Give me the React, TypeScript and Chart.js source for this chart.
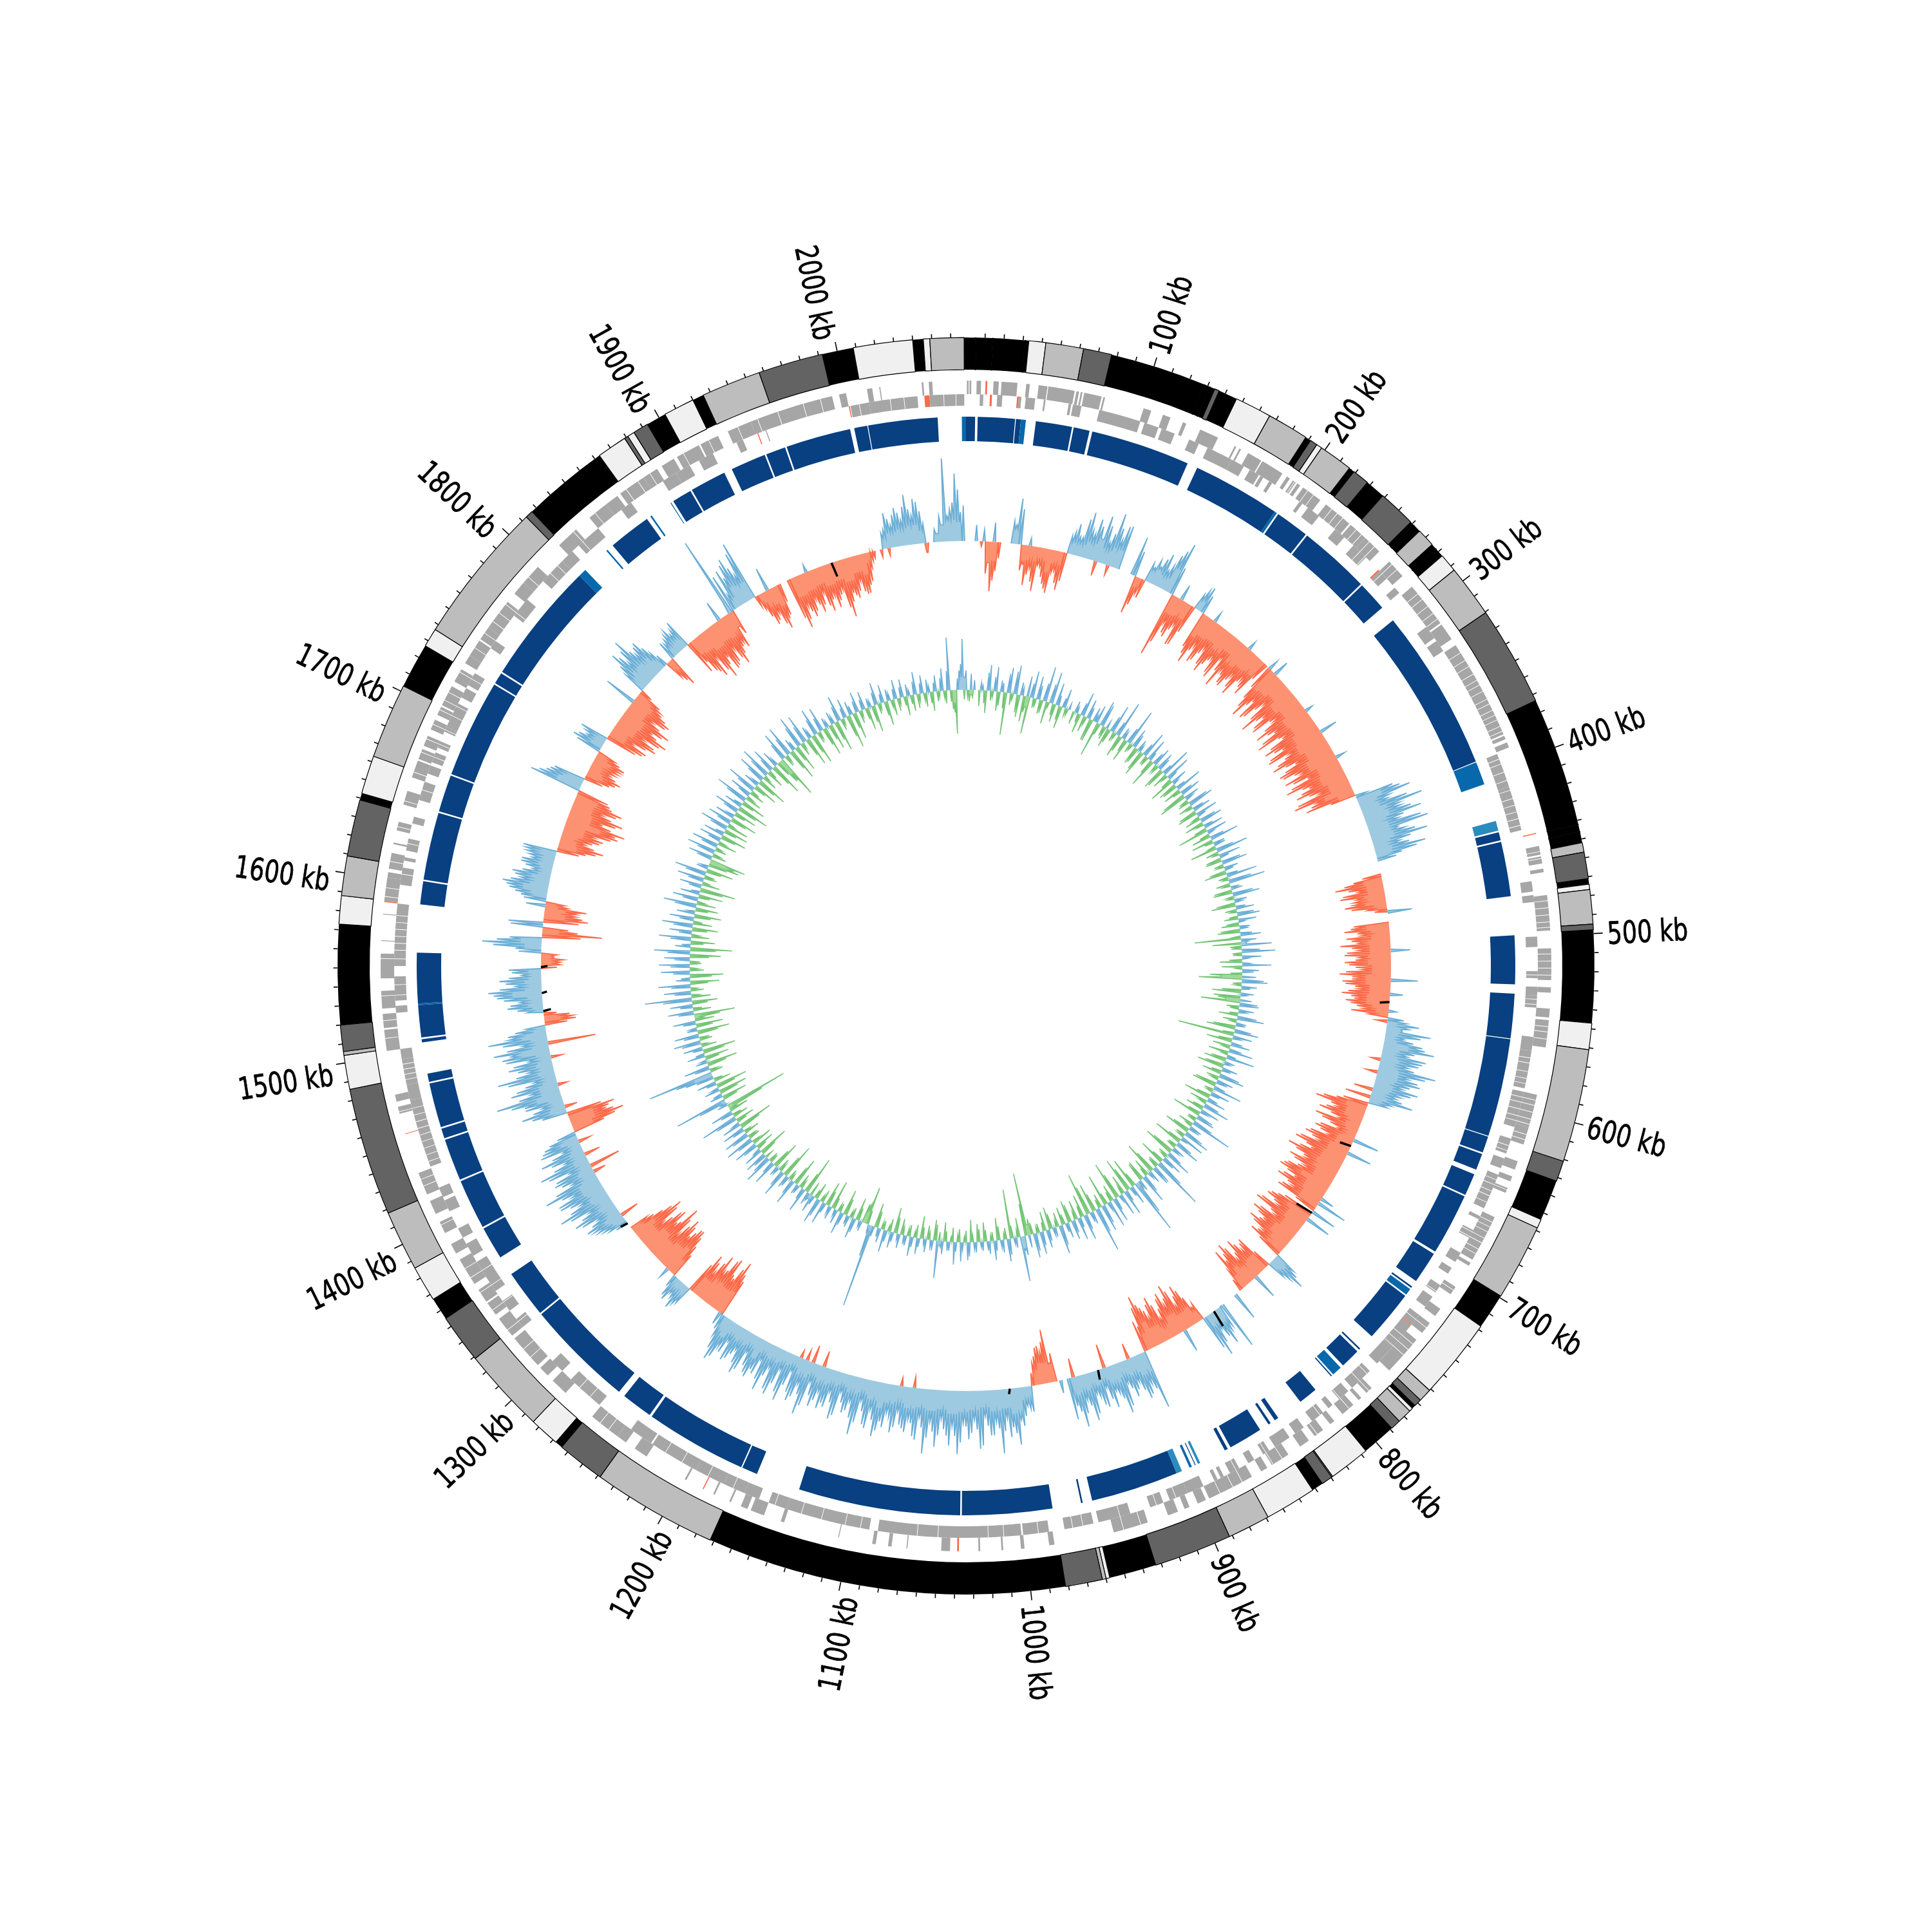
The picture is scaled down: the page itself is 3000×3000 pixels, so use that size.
import React, { useEffect, useRef } from "react";
import { Chart, registerables } from "chart.js";

Chart.register(...registerables);

const genomeKb = 2068;
const tickStepKb = 10;
const labelStepKb = 100;

// Ideogram bands: start kb, end kb, shade index
const bandShadeColors = ["#000000", "#636363", "#bdbdbd", "#f0f0f0"];
const ideogramBands = [
  [0,5,0],[5,5.3,2],[5.3,14,0],[14,14.3,2],[14.3,31,0],[31,31.4,2],[31.4,33,0],[33,42,3],[42,62,2],[62,77,1],[77,128,0],[128,128.3,3],[128.3,131,0],[131,131.3,3],[131.3,134,0],[134,136.5,1],[136.5,146.5,0],
  [146.5,166,3],[166,188,2],[188,189.5,0],[189.5,189.8,3],[189.8,191,0],[191,195,1],[195,198,3],[198,216,2],[216,217,0],[217,217.3,3],[217.3,219,0],[219,228,1],[228,238.7,0],[238.7,258.8,1],
  [258.8,261,0],[261,261.4,3],[261.4,265.4,0],[265.4,275,2],[275,278,0],[278,278.4,3],[278.4,283,0],[283,292.7,3],[292.7,320.5,2],[320.5,373.5,1],[373.5,442,0],[442,442.4,3],[442.4,446,0],[446,446.4,3],[446.4,452,0],
  [452,457,2],[457,471,1],[471,474,0],[474,476.8,3],[476.8,495,2],[495,498,1],[498,547,0],[547,561,3],[561,621,2],[621,632,1],[632,653.7,0],
  [653.7,658.5,3],[658.5,699,2],[699,718,0],[718,761,3],[761,768,2],[768,772,1],[772,774,0],[774,776,3],[776,783.6,2],[783.6,789,1],[789,807,0],
  [807,829,3],[829,829.6,2],[829.6,835.5,1],[835.5,841.6,0],[841.6,869,3],[869,891.6,2],[891.6,933,1],[933,958,0],[958,960,3],[960,962,2],[962,981.6,1],
  [981.6,1172,0],[1172,1238.6,2],[1238.6,1264,1],[1264,1268,0],[1268,1284,3],[1284,1329,2],[1329,1355,1],[1355,1367,0],[1367,1386,3],[1386,1418,2],
  [1418,1486,1],[1486,1504,3],[1504,1506,2],[1506,1520,1],[1520,1573,0],[1573,1588,3],[1588,1609,2],[1609,1639,1],[1639,1642.6,0],[1642.6,1663,3],
  [1663,1703,2],[1703,1727,0],[1727,1737,3],[1737,1813,2],[1813,1817,1],[1817,1863,0],[1863,1879,3],[1879,1881,1],[1881,1884.8,3],[1884.8,1893,1],
  [1893,1903.6,0],[1903.6,1920,3],[1920,1926,0],[1926,1957.6,2],[1957.6,1992,1],[1992,2008.6,0],[2008.6,2040,3],[2040,2045.6,0],[2045.6,2049,3],[2049,2067,2],[2067,2068,0],
];

// Genes on the outer lane
const geneOuter = [
  [0.5,1.5],[2,3],[6,8.5],[15.5,18.5],[20,29],[34,36],[41,46],[46.5,61.5],[62.5,64],[65,66],[67,77],[78,79],[101.5,106],[113,117.5],[125,127],[135.5,146.5],[157,158],[160,161],[165.5,174],[174.7,188],
  [191,193],[195,197],[198,200],[202,214],[218,235],[236,247],[247,258],[266,277],[285,311],[312,322],[326,383],[384,386],[388,391],[449,454],[455,459],[462,464],[477,497],[507,525],[529,532],[541,546],[547.5,563],
  [590,609],[609,619],[629,634],[638,641],[645,648],[663,690],[692,694],[708,713],[723,728],[733,740],[745,768],[782,786],[790,792],[796,804],[810,813],[818,824],[828,834],[842,853],[856,860],[866,893],[895,900],
  [905,908],[912,918],[930,950],[984,987],[1001,1003],[1013,1014],[1026,1027],[1043,1048],[1067,1067.6],[1076,1078],[1085,1087],[1106,1106.5],[1138,1140],[1150,1158],[1160,1164],[1170,1171],[1180,1181],[1198,1199],
  [1224,1232],[1238,1244],[1244,1262],[1282,1292],[1296,1302],[1304,1324],[1326,1338],[1341,1349],[1350,1358],[1362,1378],[1382,1388],[1395,1402],[1407,1415],[1419,1432],[1467,1471],[1474,1478],[1503,1515],
  [1516,1524],[1527,1537],[1544,1558],[1565,1565.5],[1580,1580.5],[1587,1601],[1601,1604],[1606,1615],[1620,1621],[1628,1633],[1643,1651],[1659,1669],[1670,1676],[1678,1684],[1688,1694],[1697,1702],[1703,1715],
  [1718,1726],[1730,1735],[1735,1745],[1746,1754],[1754,1772],[1778,1786],[1783,1798],[1815,1828],[1838,1850],[1850,1858],[1860,1872],[1868,1876],[1876,1885],[1888,1896],[1898,1912],[1913,1924],[1930,1944],[1944,1992],
  [1996,2000],[2012,2015],[2019,2019.6],[2043,2044],[2047,2049],
];
const geneOuterRed = [[11,12],[441.5,442],[1038,1039],[1187,1187.6],[1455,1455.4],[1587,1587.6],[1882,1883]];

// Genes on the inner lane
const geneInner = [
  [8,10],[18,21],[30.5,32],[34.5,40],[45,46],[59.5,61],[62,67],[77.5,102],[104.5,113],[115,123],[132,138],[143.6,159],[157,167],[171,177],[178,180],[184,186],[205,207],[211,219],[231,238],[245,255],[265,272],[279,283],
  [308,316],[318,325],[392,412],[412,438],[468,474],[476,480],[500,506],[520,524],[529,534],[534,541],[558,566],[566,588],[590,611],[618,627],[630,636],[640,661],[666,668],[675,680],[690,696],[700,704],[712,717],[720,727],
  [733,757],[757,770],[776,790],[793,800],[805,808],[812,820],[826,832],[836,846],[850,854],[860,864],[870,876],[880,882],[884,886],[893,903],[903,914],[918,926],[938,957],[960,977],[986,1001],[1002,1034],[1034,1085],[1090,1139],
  [1139,1150],[1156,1165],[1165,1178],[1178,1196],[1196,1225],[1226,1240],[1263,1285],[1292,1300],[1326,1332],[1338,1345],[1352,1372],[1376,1384],[1388,1394],[1405,1412],[1414,1420],[1433,1473],[1471,1482],[1482,1497],
  [1497,1503],[1524,1528],[1531,1545],[1551,1587],[1598,1608],[1612,1614],[1618,1625],[1634,1638],[1648,1659],[1664,1669],[1671,1677],[1680,1684],[1690,1693],[1692,1708],[1712,1718],[1720,1728],[1745,1750],[1768,1780],
  [1794,1810],[1803,1818],[1823,1838],[1855,1862],[1884,1893],[1893,1902],[1908,1917],[1932,1936],[1950,1950.6],[2001,2012],[2012,2040],[2047,2067],
];
const geneInnerRed = [[13.8,15],[29.5,30.5],[265,266],[740,740.6],[1945,1945.6],[2000,2000.6],[2044,2047]];

// Hairline breaks between neighbouring genes
const geneBreaksKb = [
  193,196,205,209,222,226,230,240,244,250,254,268,272,290,294,299,304,308,
  331,336,340,345,349,352,356,361,364,368,371,374,378,381,395,398,403,408,414,419,423,427,431,435,452,456,480,484,488,492,495,510,514,518,522,
  536,539,551,554,558,570,573,578,582,585,593,596,600,604,607,613,616,622,625,643,646,650,653,657,666,669,672,676,679,683,686,697,700,705,710,716,730,736,740,748,752,756,
  778,784,799,814,822,834,846,852,872,878,886,910,922,934,944,966,972,992,
  1012,1021,1050,1062,1095,1104,1118,1130,1146,1172,1188,1205,1216,1250,1256,1270,1278,1310,1316,
  1330,1344,1356,1366,1372,1400,1424,1428,1436,1440,1444,1448,1452,1456,1460,1464,1468,1485,1488,1491,1494,1510,1520,
  1534,1540,1555,1560,1564,1568,1572,1576,1580,1590,1595,1604,1610,1622,1630,1645,1654,1662,1674,1682,1691,1700,1706,1711,1724,1740,1750,1758,1764,1770,1790,1800,1806,
  1826,1842,1864,1872,1880,1902,1918,1936,1948,1960,1975,1985,2006,2024,2032,2055,2062,
];
const geneBreakWidthKb = 0.35;

// Contigs: start kb, end kb, shade index
const contigShadeColors = ["#084081", "#0868ac", "#2b8cbe"];
const contigSpans = [
  [0,5.5,0],[7,29.5,0],[30,33,0],[33,36,1],[42,64,0],[65,74.7,0],[76.4,136.7,0],[143,196.5,0],[196.5,198,1],[199,219.5,0],[220.5,264,0],[265,283,0],[293,391.5,0],[392,406,1],[429,435,2],[436,441,0],[442,475,0],
  [498.6,528,0],[533.6,560.5,0],[561,620.5,0],[621,631,0],[632,642,0],[645,658.5,0],[659.5,697,0],[698.5,718,0],[722,723,0],[724,728,1],[729,760.5,0],[770.5,771.5,0],[773,785,0],[787,793,1],[794,794.7,0],
  [807,818.6,0],[835,837.5,0],[840.5,842,0],[848,868.6,0],[870.5,872.5,0],[889,890.5,2],[892,892.5,0],[894.5,896,1],[901,904.5,2],[904.5,957.7,0],[963.5,964.5,0],[981.9,1036.5,0],[1037.5,1135.6,0],
  [1162.5,1172,0],[1172.8,1234.5,0],[1236,1255,0],[1259,1325,0],[1326,1355,0],[1367,1387,0],[1388,1418.5,0],[1419.5,1445,0],[1446,1452,0],[1453,1480,0],[1481,1486,0],[1505,1507,0],[1508,1527.5,0],[1527.5,1528.5,1],[1528.5,1559,0],
  [1588,1602,0],[1603,1644,0],[1645,1667.5,0],[1668.5,1728,0],[1729,1736,0],[1737,1811,0],[1811,1816,1],[1833,1834,1],[1838,1864,0],[1866.5,1867.5,1],[1881,1881.5,1],[1883,1895,0],[1896,1918,0],[1923,1944.5,0],[1945.5,1957.5,0],
  [1958.5,1998,0],[2000.5,2008.5,0],[2009,2051,0],[2065.5,2068,1],
];

// Outer skew track, one value every 4 kb (25 values per 100 kb)
const skewBinKb = 4;
const skewOuter = [
  0,0,25,0,-50,-77,-45,0,0,35,71,-40,-62,-35,-69,-30,-55,-68,-32,-60,28,49,30,72,40,
  55,74,35,84,45,70,0,0,62,-60,-25,30,39,45,30,60,84,-103,-45,-65,-40,-70,25,42,-60,
  -83,-50,-70,-45,-80,-55,-72,-40,-85,-60,-75,-50,-78,-45,-65,0,-60,-90,-55,-80,-45,-95,-60,-85,-50,
  -88,-60,-95,-55,-92,-65,-95,-70,-95,-60,-92,-70,-90,-55,-95,-60,-85,-50,-95,-70,-40,60,85,45,98,
  60,90,50,95,55,88,42,80,40,0,0,0,-45,-75,-40,-70,-50,-65,-30,0,0,-55,-70,-45,-60,
  -78,-50,-72,-55,-65,-45,-80,-60,-70,-50,-75,-55,-60,-40,-30,30,35,70,30,60,80,40,65,45,90,
  50,70,45,60,40,68,30,-50,-81,-45,-70,-35,-60,-30,-65,-40,-75,-50,-85,-55,-90,-60,-80,-50,-75,
  -85,-55,-80,-50,-70,40,-60,-75,-50,-85,-45,-80,-55,-75,-45,-60,35,60,30,-60,-45,-70,-40,-75,-50,
  -35,0,45,0,0,0,35,60,30,70,-30,-45,-70,-40,-80,-50,-65,-35,-75,-45,-65,-87,-40,93,50,
  70,40,60,35,80,45,65,30,55,35,75,40,80,45,0,20,-45,-83,-50,-58,-35,40,30,60,88,
  60,45,99,50,70,40,90,45,75,50,98,55,70,45,88,50,100,45,75,50,65,40,74,45,60,
  85,45,70,35,90,40,60,30,75,35,55,40,66,30,85,40,70,25,77,30,75,35,76,30,50,
  60,30,70,35,55,30,45,72,35,-60,-89,-55,-85,-60,-80,-45,-70,30,45,25,35,-40,-70,-79,-60,
  -85,-50,-95,-60,-75,-45,-85,-55,-30,0,30,45,60,35,70,40,85,45,75,50,90,40,65,35,80,
  35,70,30,60,45,-50,-85,-60,-75,40,70,35,60,102,45,65,35,90,40,69,35,75,87,40,92,
  60,30,-49,-40,25,55,35,70,83,40,65,30,50,-30,-35,-25,40,92,50,-93,-40,54,-69,-50,-65,
  -30,40,60,72,45,60,30,50,35,45,53,-45,-71,-40,-60,-50,-85,-94,-55,-85,-50,-78,-55,82,60,
  50,-40,-55,-35,-43,-50,-30,49,30,45,-60,-40,-75,-50,-85,-55,-80,-45,-70,-50,-40,35,70,45,80,
  45,60,30,-30,-50,25,35,30,46,-40,-65,-45,-85,-55,-75,-50,-80,-55,-60,-40,25,50,78,45,95,
  -25,-55,-40,-69,-50,0,0,-82,-50,-70,-45,-68,-40,-72,-50,-60,-45,-91,-55,-65,-40,-63,-50,-25,0,
  0,25,55,35,60,40,78,45,65,30,0,20,40,129,50,105,45,
];

// Outer skew track between those bins (2 kb later)
const skewOuterBetween = [
  0,0,0,18,-30,-60,-25,0,0,30,55,-30,-45,-55,-28,-45,-62,-35,-50,-45,35,30,60,45,65,
  -23,60,50,62,68,0,0,0,40,-45,-30,25,30,55,40,70,45,-80,-60,-50,-72,-45,35,30,-70,
  -60,-75,-55,-70,-65,-50,-78,-60,-55,-72,-60,-68,-50,-55,-30,-40,-75,-65,-85,-60,-75,-70,-80,-55,-70,
  -70,-85,-60,-80,-78,-90,-60,-85,-75,-80,-88,-60,-78,-85,-70,-75,-65,-88,-60,-80,18,70,50,75,60,
  75,60,85,45,70,60,55,65,30,0,0,-30,-60,-55,-65,-45,-50,-55,-20,0,0,-60,-50,-68,-50,
  -60,-68,-50,-72,-55,-70,-60,-75,-55,-65,-60,-68,-50,-58,25,50,25,55,45,65,50,70,60,55,75,
  65,55,70,45,50,35,-40,-70,-55,-60,-50,-72,-45,-58,-55,-68,-62,-78,-65,-72,-75,-55,-70,-60,-80,
  -70,-72,-60,-65,-35,-50,-70,-60,-78,-55,-70,-68,-60,-65,-50,-40,45,40,-30,-55,-60,-50,-65,-60,-70,
  -20,0,0,0,0,0,40,45,50,55,-25,-60,-55,-68,-60,-72,-50,-60,-65,-58,-72,-70,-50,60,65,
  55,50,45,70,55,40,50,60,40,65,50,60,55,65,0,0,-30,-65,-60,-45,-20,35,45,50,70,
  75,65,60,70,55,85,60,65,55,80,70,85,60,70,65,75,60,80,55,70,60,65,50,68,75,
  60,75,50,70,65,55,45,68,50,60,65,55,50,70,55,62,58,50,65,55,68,50,60,55,65,
  50,62,55,45,60,52,65,55,25,-70,-75,-60,-80,-55,-65,-60,-50,35,30,40,20,-55,-80,-70,-75,
  -70,-78,-65,-80,-60,-75,-70,-40,0,20,38,50,48,60,55,70,65,60,75,65,70,55,60,68,55,
  55,50,65,55,30,-70,-70,-65,-55,55,50,60,80,65,75,50,75,60,55,60,70,60,65,70,60,
  48,-35,-45,-20,40,50,60,75,65,55,50,45,-25,-30,-20,35,75,70,-60,-55,50,-55,-60,-50,-35,
  35,50,65,60,55,45,42,50,40,48,-35,-60,-55,-50,-65,-75,-80,-70,-75,-65,-70,-60,-50,70,55,
  -30,-48,-45,-40,-45,-40,40,42,35,-50,-65,-60,-70,-75,-65,-70,-60,-65,-60,-45,-20,50,60,65,55,
  55,45,20,-40,30,30,40,35,-55,-60,-75,-70,-65,-78,-70,-68,-65,-50,20,60,65,70,60,80,-18,
  -40,-50,-60,-55,-30,0,-65,-70,-60,-62,-55,-58,-62,-55,-70,-52,-75,-68,-60,-55,-58,-62,-45,-15,0,
  -12,30,45,50,52,60,55,70,50,-15,0,0,15,40,60,80,55,
];

// Thin opposite-sign spikes on the outer skew track: kb, size
const skewOuterBlueSpikes = [
  [22,30],[50,12],[175,25],[206,16],[240,14],[262,16],[268,25],[305,12],[325,28],[348,15],[475,38],[505,30],[528,42],[539,20],[552,12],[656,41],[667,39],[708,21],[712,48],[727,40],
  [787,40],[821,77],[836,52],[856,36],[1237,20],[1290,17],[1598,30],[1772,51],[1864,32],[1875,128],[1908,37],[1941,12],
];
const skewOuterRedSpikes = [
  [12,8],[112,15],[560,18],[590,15],[600,18],[614,30],[620,40],[905,25],[925,38],[950,30],[1074,17],[1084,13],[1146,25],[1155,28],[1160,16],[1165,12],
  [1345,30],[1385,20],[1390,49],[1400,25],[1411,19],[1440,20],[1458,15],[1480,18],[1491,75],[1996,11],[2008,12],[2037,15],
];
const skewOuterBlackMarks = [[545,-15],[661,-18],[721,-28],[829,27],[930,15],[1000,8],[1337,12],[1516,-12],[1530,-8],[1550,-10],[1962,-23]];

// Inner track, one value every 4 kb (25 values per 100 kb)
const skewInner = [
  30,-18,-12,0,-25,8,-35,40,-10,38,-22,14,-66,40,-9,45,-35,12,-25,-58,42,-14,22,-20,55,
  -8,50,-28,16,-35,30,-10,0,-20,9,-30,38,-12,18,-35,10,-55,40,-16,12,-22,45,-10,58,-25,
  12,-35,58,-9,22,-25,10,-40,42,-15,14,-45,30,-12,20,-30,48,-10,16,-40,9,-25,42,-14,32,
  -45,12,-18,40,-10,28,-32,14,-25,35,-12,30,-48,10,-30,45,-14,18,-42,50,-10,15,-25,40,-12,
  14,-35,48,-9,57,-12,18,-30,42,-10,12,-38,28,-10,35,-22,9,-28,14,-35,32,-72,12,47,-16,
  52,-14,10,-35,45,-10,18,-50,-67,40,-12,14,-45,9,-35,-61,30,-14,12,-30,42,-10,15,-45,38,
  -88,12,-40,30,-12,38,-10,44,-35,9,-42,14,-30,40,-12,18,-38,46,-10,15,-42,30,-12,42,-28,
  12,-45,30,-14,66,-10,18,-40,42,-12,9,-45,40,-15,12,-48,42,-10,20,-40,82,-16,30,-52,10,
  -14,45,-30,12,87,-48,15,-55,40,-12,10,-60,38,-16,12,-50,42,-14,70,-45,16,-67,40,-18,35,
  -12,30,-35,14,-28,45,-10,12,-35,28,-14,35,-10,38,-25,-98,30,70,-12,10,-77,35,-10,12,-35,
  30,-10,14,-30,9,-28,12,-35,28,-9,30,-12,35,-8,14,-30,10,58,-32,12,-22,9,-35,25,-10,
  30,-12,14,-25,10,-40,25,-9,35,-12,14,-38,131,12,-59,-30,9,-35,32,-10,14,-40,35,-12,10,
  -45,12,-38,35,-10,40,-14,28,12,-60,38,-12,14,-45,40,-10,16,-55,42,-12,10,-45,38,-14,45,
  -12,35,-48,14,-30,38,-12,45,-16,40,-10,35,-55,12,-30,58,-14,35,-12,-100,10,83,-40,14,-45,
  12,-50,30,-14,45,103,-12,40,-48,10,-38,14,-52,30,-10,42,-16,38,-50,12,-42,35,-14,-64,40,
  -14,35,-40,73,-12,42,-10,50,-45,14,-52,45,-12,48,-16,40,-48,56,-65,14,-38,50,-12,35,-40,
  48,-14,38,-42,12,-35,52,-12,40,-38,14,-55,35,-10,42,-16,50,-42,12,-48,-57,38,-12,45,-10,
  42,-12,35,-40,14,-38,45,-10,38,-42,12,-35,40,-50,14,-38,52,-12,35,-14,48,-38,12,-48,45,
  -10,50,-14,38,-52,12,-40,-68,45,-12,48,-50,14,-42,50,-10,45,-45,12,-48,42,-12,38,-45,10,
  -40,12,-48,40,-10,30,-52,14,-42,32,-10,28,-35,10,-42,35,-9,28,-38,12,-25,30,-10,28,-30,
  9,-25,35,-12,28,-22,10,-30,25,-10,35,-20,82,-30,-68,30,79,
];

// Inner track between those bins (2 kb later)
const skewInnerBetween = [
  -12,25,15,0,12,-20,28,-15,22,-30,18,-25,30,-18,35,-28,20,-40,32,22,-15,36,-22,28,-35,
  30,-18,35,-22,15,-12,10,0,18,-14,20,-25,30,-35,22,28,-18,35,-20,-30,25,-15,22,-35,18,
  -20,25,-15,30,-28,18,-32,20,-15,35,-24,20,-12,28,-35,16,-25,40,-18,26,-30,15,-28,20,-38,
  24,-15,32,-22,18,-28,35,-12,26,-30,15,-20,32,-16,22,-34,18,-12,28,-20,34,-24,30,-15,22,
  -26,18,-15,36,-22,14,-28,32,-12,20,-30,15,-18,26,-14,28,-20,16,-30,18,-12,24,-45,-18,28,
  -15,30,-20,12,-32,26,-18,22,34,-14,24,-30,20,-42,18,28,-20,24,-14,30,-22,16,-35,26,-18,
  30,-22,18,-28,20,-32,14,-24,16,-30,24,-16,32,-20,26,-34,18,-14,30,-22,16,-28,24,-18,30,
  -20,26,-14,32,-24,20,-28,30,-15,38,-22,26,-14,20,-36,24,-16,32,-20,45,-18,30,-35,20,-28,
  28,-32,18,55,-22,30,-38,18,-30,35,-40,20,-26,42,-18,30,-22,40,-28,20,-45,24,-35,16,-30,
  20,-28,24,-16,32,-22,15,-24,18,-30,22,-14,28,-18,20,-50,22,-30,16,-20,25,-18,20,-22,16,
  -14,20,-18,14,-20,16,-12,22,-18,12,-20,15,-22,14,-16,20,-14,-25,16,-12,20,-18,14,-20,16,
  -18,16,-12,22,-25,15,-20,18,-14,22,-26,16,50,-22,-30,15,-20,22,-16,18,-26,20,-14,22,-18,
  20,-24,16,-20,28,-26,14,-22,20,-32,18,-22,16,-30,24,-16,20,-34,26,-20,15,-30,20,-16,28,
  22,-26,30,-16,24,-32,26,-18,28,-24,20,-34,30,-16,35,-24,20,-30,-60,16,45,-24,20,-30,24,
  -30,16,-26,28,60,-20,24,-30,18,-22,28,-34,16,-24,30,-20,24,-32,16,-26,20,-30,-40,24,-28,
  20,-24,45,-30,26,-20,30,-28,22,-34,26,-22,30,-18,24,-30,35,-40,24,-20,32,-28,20,-24,30,
  -30,22,-26,28,-20,34,-30,24,-18,30,-36,20,-28,24,-20,32,-24,18,-30,-38,24,-22,28,-18,26,
  -30,20,-24,32,-20,28,-34,22,-26,30,-18,24,-32,28,-20,34,-26,20,-24,30,-20,24,-30,28,-24,
  32,-28,22,-34,26,-24,-40,28,-18,30,-32,20,-24,34,-20,28,-28,20,-30,26,-18,22,-28,16,-24,
  20,-30,24,-18,16,-34,22,-24,18,-20,16,-18,14,-26,20,-16,14,-22,18,-12,16,-20,16,-14,18,
  -14,20,-22,16,-12,20,-18,14,-16,20,-12,30,-18,-35,18,40,-15,
];

[skewOuter, skewOuterBetween, skewInner, skewInnerBetween].forEach((a, i) => {
  if (a.length !== 517) throw new Error(`series ${i} has ${a.length} values`);
});

const outerBaseRadius = 660;
const innerBaseRadius = 429;
const gridSize = genomeKb;
const gridLabels = Array.from({ length: gridSize }, (_, i) => String(i));
const shoulderShare = 0.65;

function buildLayer(values: number[], between: number[], sign: number, base: number, extras: number[][]) {
  const mag = new Array(gridSize).fill(0);
  const size = (v: number) => (v * sign > 0 ? Math.abs(v) : 0);
  values.forEach((v, i) => {
    const here = size(v);
    const next = size(values[(i + 1) % values.length]);
    const floor = Math.min(here, next) * shoulderShare;
    const at = i * skewBinKb;
    mag[at] = here;
    for (let k = 1; k < skewBinKb; k++) mag[at + k] = floor;
    mag[at + 2] = Math.max(mag[at + 2], size(between[i]));
  });
  extras.forEach(([kb, s]) => {
    const idx = Math.round(kb) % gridSize;
    mag[idx] = Math.max(mag[idx], s);
  });
  return mag.map((m, i) => {
    if (m > 0) return base + sign * m;
    const touching = mag[(i + 1) % gridSize] > 0 || mag[(i + gridSize - 1) % gridSize] > 0;
    return touching ? base : null;
  });
}

function skewDataset(layer: (number | null)[], base: number, line: string, fillColor: string, width: number) {
  return {
    data: layer,
    borderColor: line,
    backgroundColor: fillColor,
    borderWidth: width,
    pointRadius: 0,
    tension: 0,
    spanGaps: false,
    fill: { value: base },
    borderJoinStyle: "miter" as const,
  };
}

function blackDataset() {
  const layer = new Array(gridSize).fill(null);
  skewOuterBlackMarks.forEach(([kb, s]) => {
    layer[kb] = outerBaseRadius;
    layer[kb + 1] = outerBaseRadius + s;
  });
  return { data: layer, borderColor: "#000000", backgroundColor: "#000000", borderWidth: 3.5, pointRadius: 0, tension: 0, fill: false, spanGaps: false };
}

const CLEAR = "rgba(0,0,0,0)";
function ringSlices(spans: number[][], colorOf: (s: number[]) => string) {
  const sorted = [...spans].sort((a, b) => a[0] - b[0]);
  const data: number[] = [];
  const colors: string[] = [];
  let pos = 0;
  sorted.forEach((s) => {
    const start = Math.max(s[0], pos);
    if (s[1] <= start) return;
    if (start > pos) {
      data.push(start - pos);
      colors.push(CLEAR);
    }
    data.push(s[1] - start);
    colors.push(colorOf(s));
    pos = s[1];
  });
  if (pos < genomeKb) {
    data.push(genomeKb - pos);
    colors.push(CLEAR);
  }
  return { data, colors };
}

const GENE_GREY = "#a6a6a6";
const GENE_RED = "#fb6a4a";
function splitAtBreaks(span: number[]) {
  const pieces: number[][] = [];
  let from = span[0];
  geneBreaksKb.forEach((b) => {
    if (b > from + 0.3 && b + geneBreakWidthKb < span[1] - 0.3) {
      pieces.push([from, b, span[2]]);
      from = b + geneBreakWidthKb;
    }
  });
  pieces.push([from, span[1], span[2]]);
  return pieces;
}
function geneRing(grey: number[][], red: number[][]) {
  const greySorted = [...grey].sort((a, b) => a[0] - b[0]);
  const tagged = [
    ...red.map((s) => [s[0], s[1], 1]),
    ...greySorted.flatMap((s) => splitAtBreaks([s[0], s[1], 0])),
  ];
  return ringSlices(tagged, (s) => (s[2] === 1 ? GENE_RED : GENE_GREY));
}

const tickAndLabelPlugin = {
  id: "tickAndLabel",
  afterDraw(chart: any) {
    const scale = chart.scales.r;
    const ctx = chart.ctx;
    const ringOuter = 976;
    ctx.save();
    ctx.strokeStyle = "#000";
    ctx.lineWidth = 1.6;
    for (let kb = tickStepKb; kb < genomeKb; kb += tickStepKb) {
      const major = kb % labelStepKb === 0;
      const a = scale.getPointPositionForValue(kb, ringOuter);
      const b = scale.getPointPositionForValue(kb, ringOuter + (major ? 14 : 6.5));
      ctx.beginPath();
      ctx.moveTo(a.x, a.y);
      ctx.lineTo(b.x, b.y);
      ctx.stroke();
    }
    ctx.fillStyle = "#000";
    ctx.font = '48px "DejaVu Sans"';
    ctx.textBaseline = "alphabetic";
    ctx.lineWidth = 0.8;
    for (let kb = labelStepKb; kb < genomeKb; kb += labelStepKb) {
      const p = scale.getPointPositionForValue(kb, ringOuter + 21);
      const deg = (kb / genomeKb) * 360;
      const right = deg <= 180;
      ctx.save();
      ctx.translate(p.x, p.y);
      ctx.rotate((((right ? deg - 90 : deg + 90)) * Math.PI) / 180);
      ctx.scale(0.76, 1);
      ctx.textAlign = right ? "left" : "right";
      ctx.fillText(`${kb} kb`, 0, right ? 17.5 : 31.5);
      ctx.strokeText(`${kb} kb`, 0, right ? 17.5 : 31.5);
      ctx.restore();
    }
    ctx.restore();
  },
};

export default function App() {
  const ringRef = useRef<HTMLCanvasElement | null>(null);
  const trackRef = useRef<HTMLCanvasElement | null>(null);

  useEffect(() => {
    const bands = ringSlices(ideogramBands, (s) => bandShadeColors[s[2]]);
    const bandBorders = bands.data.map((_, i) => (bands.colors[i] === "#000000" ? 0 : 1.2));
    const outerGenes = geneRing(geneOuter, geneOuterRed);
    const innerGenes = geneRing(geneInner, geneInnerRed);
    const contigs = ringSlices(contigSpans, (s) => contigShadeColors[s[2]]);
    const ring = (d: { data: number[]; colors: string[] }, weight: number) => ({
      data: d.data,
      backgroundColor: d.colors,
      borderWidth: 0,
      weight,
    });
    const rings = new Chart(ringRef.current!, {
      type: "doughnut",
      data: {
        labels: [],
        datasets: [
          { ...ring(bands, 50), borderWidth: bandBorders, borderColor: "#000000" },
          { data: [1], backgroundColor: [CLEAR], borderWidth: 0, weight: 17 },
          ring(outerGenes, 21),
          ring(innerGenes, 18),
          { data: [1], backgroundColor: [CLEAR], borderWidth: 0, weight: 17 },
          ring(contigs, 38),
        ],
      } as any,
      options: {
        responsive: false,
        animation: false,
        devicePixelRatio: 1,
        cutout: 815,
        rotation: 0,
        circumference: 360,
        layout: { padding: 523.5 },
        plugins: { legend: { display: false }, tooltip: { enabled: false } },
        events: [],
      } as any,
    });

    const tracks = new Chart(trackRef.current!, {
      type: "radar",
      data: {
        labels: gridLabels,
        datasets: [
          blackDataset(),
          skewDataset(buildLayer(skewOuter, skewOuterBetween, 1, outerBaseRadius, skewOuterBlueSpikes), outerBaseRadius, "#6baed6", "#9ecae1", 1.8),
          skewDataset(buildLayer(skewOuter, skewOuterBetween, -1, outerBaseRadius, skewOuterRedSpikes), outerBaseRadius, "#fb6a4a", "#fc9272", 1.8),
          skewDataset(buildLayer(skewInner, skewInnerBetween, 1, innerBaseRadius, []), innerBaseRadius, "#6baed6", "#9ecae1", 1.5),
          skewDataset(buildLayer(skewInner, skewInnerBetween, -1, innerBaseRadius, []), innerBaseRadius, "#74c476", "#a1d99b", 1.5),
        ],
      } as any,
      options: {
        responsive: false,
        animation: false,
        devicePixelRatio: 1,
        layout: { padding: 0, autoPadding: false },
        elements: { point: { radius: 0 } },
        scales: {
          r: {
            min: 0,
            max: 1500,
            startAngle: 0,
            ticks: { display: false, stepSize: 1500 },
            grid: { display: false, circular: true },
            angleLines: { display: false },
            pointLabels: { display: false },
          },
        },
        plugins: { legend: { display: false }, tooltip: { enabled: false } },
        events: [],
      } as any,
      plugins: [tickAndLabelPlugin],
    });
    return () => {
      rings.destroy();
      tracks.destroy();
    };
  }, []);

  const layer: React.CSSProperties = { position: "absolute", left: 0, top: 0, width: 3000, height: 3000 };
  return (
    <div style={{ ...layer, background: "#ffffff" }}>
      <canvas ref={ringRef} width={3000} height={3000} style={layer} />
      <canvas ref={trackRef} width={3000} height={3000} style={layer} />
    </div>
  );
}
